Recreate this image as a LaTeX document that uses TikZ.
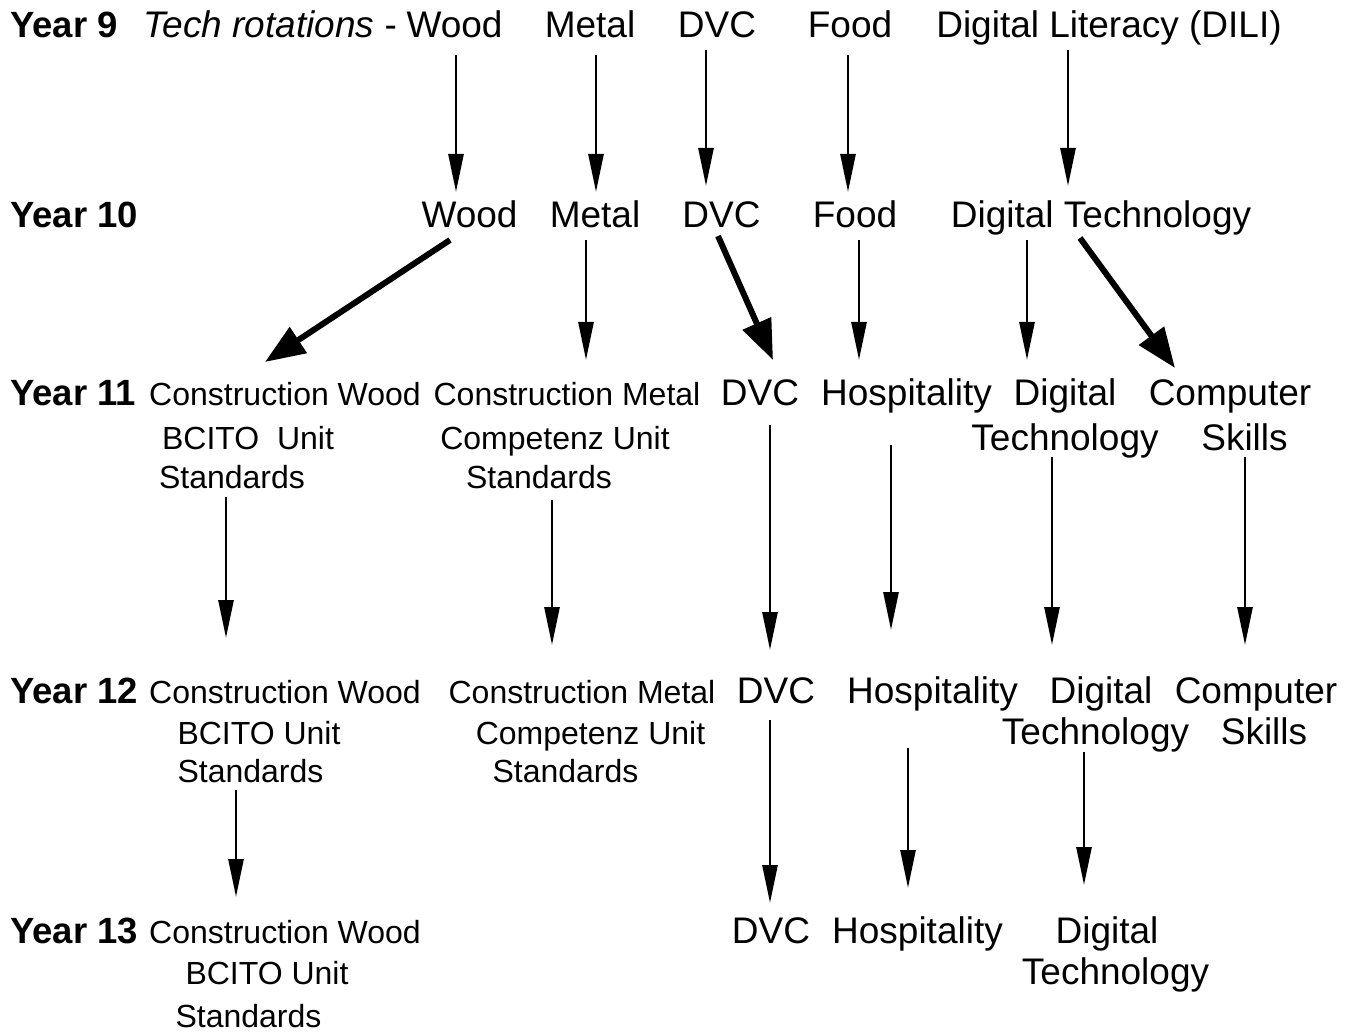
\documentclass[tikz,border=0pt]{standalone}
\usepackage{fontspec}
\setmainfont{Liberation Sans}
\usetikzlibrary{arrows.meta}
\begin{document}
\begin{tikzpicture}[x=1pt,y=-1pt,
  big/.style={font=\fontsize{37}{44}\selectfont, inner sep=0pt, anchor=base},
  small/.style={font=\fontsize{32}{38}\selectfont, inner sep=0pt, anchor=base},
  yr/.style={font=\fontsize{36.5}{44}\selectfont\bfseries, inner sep=0pt, anchor=base west},
  arr/.style={line width=2.8pt, -{Triangle[length=38pt,width=15pt]}},
  thick arr/.style={line width=6pt, -{Triangle[length=40pt,width=30pt]}}]
\useasboundingbox (0,0) rectangle (1358,1032);
% Row 1
\node[yr] (y9) at (10,38) {Year 9};
\node[big, anchor=base west] (tr9) at (143,38) {\textit{Tech rotations} -};
\node[big] (w9) at (454.5,38) {Wood};
\node[big] (m9) at (590,38) {Metal};
\node[big] (d9) at (717,38) {DVC};
\node[big] (f9) at (850,38) {Food};
\node[big] (dl9) at (1109,38) {Digital Literacy (DILI)};
% Row 2
\node[yr] (y10) at (10,228) {Year 10};
\node[big] (w10) at (469.5,228) {Wood};
\node[big] (m10) at (595,228) {Metal};
\node[big] (d10) at (721.5,228) {DVC};
\node[big] (f10) at (855,228) {Food};
\node[big] (dt10) at (1101,228) {Digital Technology};
% Row 3
\node[yr] (y11) at (10,406) {Year 11};
\node[small] (cw11) at (285,406) {Construction Wood};
\node[small] (cw11b) at (248,449) {BCITO\ \ Unit};
\node[small] (cw11c) at (232,488) {Standards};
\node[small] (cm11) at (567,406) {Construction Metal};
\node[small] (cm11b) at (555,449) {Competenz Unit};
\node[small] (cm11c) at (539,488) {Standards};
\node[big] (d11) at (760,406) {DVC};
\node[big] (h11) at (906.5,406) {Hospitality};
\node[big] (dt11) at (1065,406) {Digital};
\node[big] (dt11b) at (1065,450) {Technology};
\node[big] (cs11) at (1230,406) {Computer};
\node[big] (cs11b) at (1244.5,450) {Skills};
% Row 4
\node[yr] (y12) at (10,703) {Year 12};
\node[small] (cw12) at (285,703) {Construction Wood};
\node[small] (cw12b) at (259,744) {BCITO Unit};
\node[small] (cw12c) at (250.5,782) {Standards};
\node[small] (cm12) at (582,703) {Construction Metal};
\node[small] (cm12b) at (590.5,744) {Competenz Unit};
\node[small] (cm12c) at (565.5,782) {Standards};
\node[big] (d12) at (776,703) {DVC};
\node[big] (h12) at (932.5,703) {Hospitality};
\node[big] (dt12) at (1101,703) {Digital};
\node[big] (dt12b) at (1095.5,744) {Technology};
\node[big] (cs12) at (1256,703) {Computer};
\node[big] (cs12b) at (1264,744) {Skills};
% Row 5
\node[yr] (y13) at (10,943) {Year 13};
\node[small] (cw13) at (285,943) {Construction Wood};
\node[small] (cw13b) at (267,984) {BCITO Unit};
\node[small] (cw13c) at (248.5,1027) {Standards};
\node[big] (d13) at (771,943) {DVC};
\node[big] (h13) at (917.5,943) {Hospitality};
\node[big] (dt13) at (1107,943) {Digital};
\node[big] (dt13b) at (1115.5,984) {Technology};
% Arrows Year 9 -> Year 10
\draw[arr] ([shift={(1.5,17)}]w9.base) -- ([shift={(-13.5,-36)}]w10.base);
\draw[arr] ([shift={(6,17)}]m9.base) -- ([shift={(1,-36)}]m10.base);
\draw[arr] ([shift={(-11,12)}]d9.base) -- ([shift={(-15.5,-42)}]d10.base);
\draw[arr] ([shift={(-2,17)}]f9.base) -- ([shift={(-7,-36)}]f10.base);
\draw[arr] ([shift={(-41,12)}]dl9.base) -- ([shift={(-33,-42)}]dt10.base);
% Year 10 -> Year 11
\draw[thick arr] ([shift={(-19.5,12)}]w10.base) -- ([shift={(-20,-44)}]cw11.base);
\draw[arr] ([shift={(-9,12)}]m10.base) -- ([shift={(19,-46)}]cm11.base);
\draw[thick arr] ([shift={(-3.5,8)}]d10.base) -- ([shift={(13,-46)}]d11.base);
\draw[arr] ([shift={(4,12)}]f10.base) -- ([shift={(-47.5,-46)}]h11.base);
\draw[arr] ([shift={(-74,12)}]dt10.base) -- ([shift={(-38,-46)}]dt11.base);
\draw[thick arr] ([shift={(-21,10)}]dt10.base) -- ([shift={(-55,-38)}]cs11.base);
% Year 11 -> Year 12
\draw[arr] ([shift={(-6,9)}]cw11c.base) -- ([shift={(-59,-65)}]cw12.base);
\draw[arr] ([shift={(13,12)}]cm11c.base) -- ([shift={(-30,-58)}]cm12.base);
\draw[arr] ([shift={(10,19)}]d11.base) -- ([shift={(-6,-53)}]d12.base);
\draw[arr] ([shift={(-15.5,39)}]h11.base) -- ([shift={(-41.5,-73)}]h12.base);
\draw[arr] ([shift={(-13,7)}]dt11b.base) -- ([shift={(-49,-58)}]dt12.base);
\draw[arr] ([shift={(0.5,7)}]cs11b.base) -- ([shift={(-11,-58)}]cs12.base);
% Year 12 -> Year 13
\draw[arr] ([shift={(-14.5,8)}]cw12c.base) -- ([shift={(-49,-46)}]cw13.base);
\draw[arr] ([shift={(-6,17)}]d12.base) -- ([shift={(-1,-40)}]d13.base);
\draw[arr] ([shift={(-24.5,45)}]h12.base) -- ([shift={(-9.5,-55)}]h13.base);
\draw[arr] ([shift={(-11.5,8)}]dt12b.base) -- ([shift={(-23,-58)}]dt13.base);
\end{tikzpicture}
\end{document}
